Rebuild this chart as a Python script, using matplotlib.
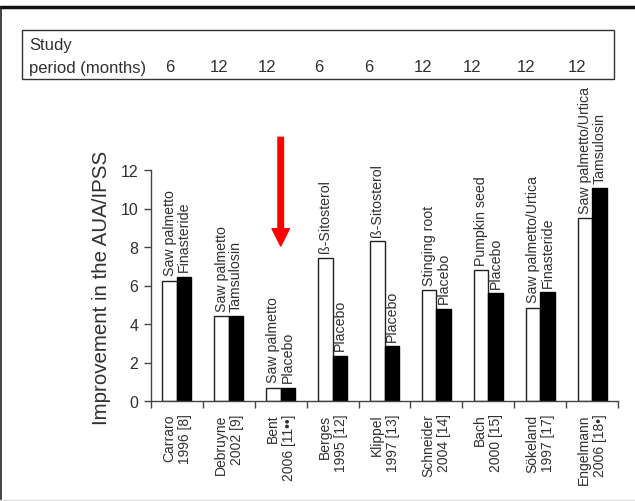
import matplotlib
matplotlib.use("Agg")
import matplotlib.pyplot as plt
from matplotlib.patches import Rectangle
from matplotlib.lines import Line2D

plt.rcParams['font.family'] = ['Liberation Sans', 'DejaVu Sans']

# Studies (x tick labels)
studies = ["Carraro\n1996 [8]", "Debruyne\n2002 [9]", "Bent\n2006 [11••]",
           "Berges\n1995 [12]", "Klippel\n1997 [13]", "Schneider\n2004 [14]",
           "Bach\n2000 [15]", "Sökeland\n1997 [17]", "Engelmann\n2006 [18•]"]
study_months = [6, 12, 12, 6, 6, 12, 12, 12, 12]

# Treatment arm (white bars) and comparator arm (black bars)
treatment_names = ["Saw palmetto", "Saw palmetto", "Saw palmetto", "ß-Sitosterol",
                   "ß-Sitosterol", "Stinging root", "Pumpkin seed",
                   "Saw palmetto/Urtica", "Saw palmetto/Urtica"]
treatment_values = [6.25, 4.4, 0.7, 7.45, 8.3, 5.75, 6.8, 4.85, 9.5]
comparator_names = ["Finasteride", "Tamsulosin", "Placebo", "Placebo", "Placebo",
                    "Placebo", "Placebo", "Finasteride", "Tamsulosin"]
comparator_values = [6.45, 4.4, 0.7, 2.35, 2.85, 4.8, 5.6, 5.65, 11.05]

y_ticks = [0, 2, 4, 6, 8, 10, 12]

W, H = 635, 502
fig = plt.figure(figsize=(W / 100, H / 100), dpi=100)
ax = fig.add_axes([151 / W, 1 - 402 / H, (618 - 151) / W, (402 - 171) / H])

txt = '#303030'
line_col = '#444444'
bw = 0.28
x = list(range(len(studies)))
xw = [i - bw / 2 for i in x]
xb = [i + bw / 2 for i in x]

ax.bar(xw, treatment_values, width=bw, color='white', edgecolor='#222222', linewidth=1.0, zorder=2)
ax.bar(xb, comparator_values, width=bw, color='black', edgecolor='black', linewidth=1.0, zorder=2)

for xi, v, name in zip(xw, treatment_values, treatment_names):
    ax.annotate(name, (xi, v), xytext=(0, 4), textcoords='offset points',
                rotation=90, ha='center', va='bottom', fontsize=10.2, color=txt,
                annotation_clip=False)
for xi, v, name in zip(xb, comparator_values, comparator_names):
    ax.annotate(name, (xi, v), xytext=(0, 4), textcoords='offset points',
                rotation=90, ha='center', va='bottom', fontsize=10.2, color=txt,
                annotation_clip=False)

ax.set_xlim(-0.5, len(studies) - 0.5)
ax.set_ylim(0, 12)
ax.set_yticks(y_ticks)
ax.set_yticklabels([str(t) for t in y_ticks], fontsize=11.5, color=txt)
ax.tick_params(axis='y', length=5, width=1, color=line_col, pad=4)

ax.set_xticks([i - 0.5 for i in range(len(studies) + 1)])
ax.set_xticklabels([])
ax.tick_params(axis='x', which='major', length=5, width=1, color=line_col)
ax.set_xticks(x, minor=True)
ax.set_xticklabels(studies, minor=True, rotation=90, fontsize=10, color=txt,
                   va='top', ha='center', multialignment='right')
ax.tick_params(axis='x', which='minor', length=0, pad=9)

for s in ['top', 'right']:
    ax.spines[s].set_visible(False)
for s in ['left', 'bottom']:
    ax.spines[s].set_color(line_col)
    ax.spines[s].set_linewidth(1)

fig.text(102 / W, 1 - 288 / H, "Improvement in the AUA/IPSS", rotation=90,
         ha='center', va='center', fontsize=14.8, color=txt)

# Highlight arrow over the Bent study
ax.annotate('', xy=(2, 8.05), xytext=(2, 13.7),
            arrowprops=dict(color='#ff0000', width=4, headwidth=12.5,
                            headlength=12.5, shrink=0),
            annotation_clip=False)

# Study period box
fig.patches.append(Rectangle((22 / W, 1 - 80 / H), (614 - 22) / W, (80 - 30.7) / H,
                             transform=fig.transFigure, fill=False,
                             edgecolor='#333333', linewidth=1))
fig.text(29 / W, 1 - 50 / H, "Study", fontsize=12, color=txt, va='baseline', ha='left')
fig.text(29 / W, 1 - 72.5 / H, "period (months)", fontsize=12, color=txt,
         va='baseline', ha='left')
month_x = [170, 219, 267, 319, 369, 423, 472, 526, 577]
for mx, m in zip(month_x, study_months):
    fig.text(mx / W, 1 - 72.5 / H, str(m), fontsize=12, color=txt,
             va='baseline', ha='center')

# Outer frame lines
fig.add_artist(Line2D([0, 1], [1 - 8 / H, 1 - 8 / H], transform=fig.transFigure,
                      color='#111111', linewidth=2.5))
fig.add_artist(Line2D([0.6 / W, 0.6 / W], [0, 1 - 8 / H], transform=fig.transFigure,
                      color='#222222', linewidth=1.2))
fig.add_artist(Line2D([0, 1], [1.5 / H, 1.5 / H], transform=fig.transFigure,
                      color='#dddddd', linewidth=1))

fig.savefig('out.png', dpi=100)
